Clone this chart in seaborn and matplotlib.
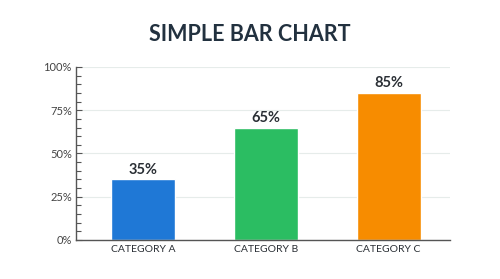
import matplotlib
matplotlib.use("Agg")
import matplotlib.pyplot as plt
import seaborn as sns
import pandas as pd
from matplotlib.ticker import MultipleLocator, FuncFormatter

categories = ["CATEGORY A", "CATEGORY B", "CATEGORY C"]
values = [35, 65, 85]
colors = ["#1f78d6", "#2bbd62", "#f78c00"]
y_ticks = [0, 25, 50, 75, 100]

sns.set_theme(style="white")
plt.rcParams['font.family'] = ['Lato', 'DejaVu Sans']

df = pd.DataFrame({"category": categories, "value": values})

fig = plt.figure(figsize=(5.0, 2.79), dpi=100)
ax = fig.add_axes([0.152, 0.14, 0.748, 0.62])

sns.barplot(data=df, x="category", y="value", hue="category", palette=colors,
            width=0.52, legend=False, ax=ax, saturation=1)

ax.set_ylim(0, 100)
ax.set_xlim(-0.545, 2.5)
ax.set_yticks(y_ticks)
ax.yaxis.set_major_formatter(FuncFormatter(lambda v, p: f"{int(v)}%"))
ax.yaxis.set_minor_locator(MultipleLocator(5))
ax.grid(axis="y", color="#e6ecea", linewidth=0.8)
ax.set_axisbelow(True)
for s in ["top", "right"]:
    ax.spines[s].set_visible(False)
ax.spines["left"].set_color("#555555")
ax.spines["bottom"].set_color("#555555")
ax.spines["left"].set_linewidth(1.0)
ax.spines["bottom"].set_linewidth(1.0)
ax.tick_params(axis="y", which="major", direction="in", length=4, width=0.8,
               color="#555555", labelsize=8, labelcolor="#444444", pad=3, left=True)
ax.tick_params(axis="y", which="minor", direction="in", length=3.5, width=0.8,
               color="#555555", left=True)
ax.tick_params(axis="x", length=0, labelsize=7.5, labelcolor="#2a2f35", pad=4)
ax.set_xlabel("")
ax.set_ylabel("")

for i, v in enumerate(values):
    ax.text(i, v + 1.5, f"{v}%", ha="center", va="bottom", fontsize=10.5,
            fontweight="bold", color="#2a2f35")

fig.text(0.5, 0.875, "SIMPLE BAR CHART", ha="center", va="center",
         fontsize=15.5, fontweight="bold", color="#22313f")

fig.savefig("out.png", dpi=100, facecolor="white")
